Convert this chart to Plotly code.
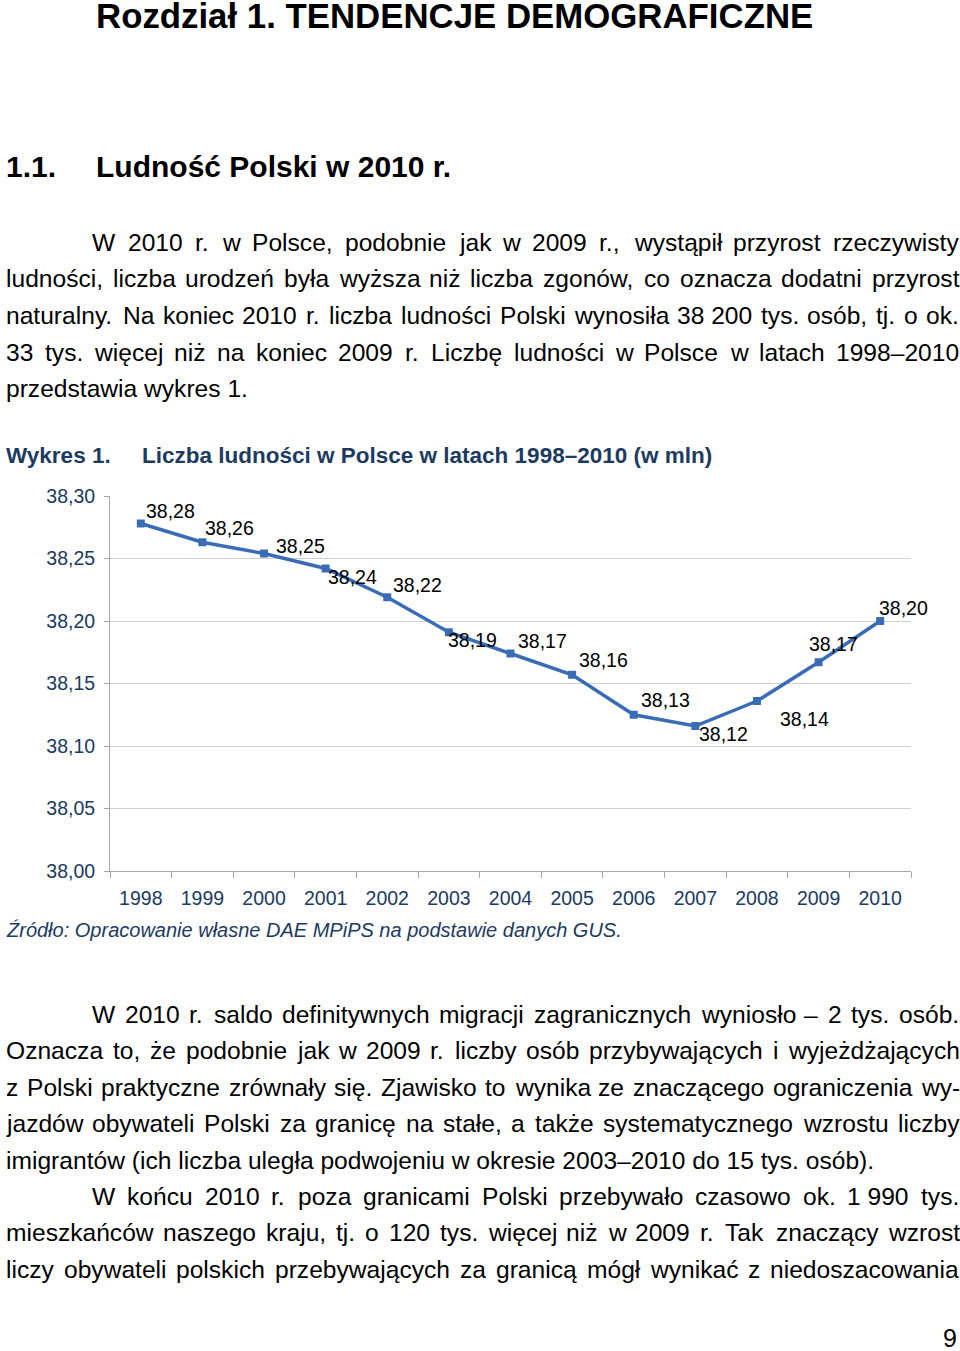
import plotly.graph_objects as go

# ---------------- data ----------------
years = ["1998", "1999", "2000", "2001", "2002", "2003", "2004",
         "2005", "2006", "2007", "2008", "2009", "2010"]
population = [38.278, 38.263, 38.254, 38.242, 38.219, 38.191, 38.174,
              38.157, 38.125, 38.116, 38.136, 38.167, 38.200]
value_labels = ["38,28", "38,26", "38,25", "38,24", "38,22", "38,19", "38,17",
                "38,16", "38,13", "38,12", "38,14", "38,17", "38,20"]
y_ticks = [38.00, 38.05, 38.10, 38.15, 38.20, 38.25, 38.30]
y_tick_labels = ["38,00", "38,05", "38,10", "38,15", "38,20", "38,25", "38,30"]

# label offsets (pixels) relative to each point
label_dx = [4, 2, 11, 1, 5, -2, 6, 6, 6, 3, 22, -11, -2]
label_dy = [13, 14, 8, -8, 12, -8, 13, 15, 15, -8, -18, 18, 13]

# ---------------- page geometry ----------------
W, H = 960, 1351
PL, PR, PT, PB = 110, 911, 496, 871   # plot area in page pixels

def px(x):
    return (x - PL) / (PR - PL)

def py(y):
    return (PB - y) / (PB - PT)

FONT = "Liberation Sans, Arial, Helvetica, sans-serif"
NAVY = "#1d3a5f"
BLUE = "#3a6cb5"

# Arial advance widths (1/1000 em)
AW = {' ': 278, '\u00a0': 278, ',': 278, '.': 278, ':': 278, '(': 333, ')': 333, '-': 333, '–': 556,
      'a': 556, 'b': 556, 'c': 500, 'd': 556, 'e': 556, 'f': 278, 'g': 556, 'h': 556, 'i': 222,
      'j': 222, 'k': 500, 'l': 222, 'm': 833, 'n': 556, 'o': 556, 'p': 556, 'q': 556, 'r': 333,
      's': 500, 't': 278, 'u': 556, 'v': 500, 'w': 722, 'x': 500, 'y': 500, 'z': 500,
      'ą': 556, 'ć': 500, 'ę': 556, 'ł': 222, 'ń': 556, 'ó': 556, 'ś': 500, 'ź': 500, 'ż': 500,
      'A': 667, 'B': 667, 'C': 722, 'D': 722, 'E': 667, 'F': 611, 'G': 778, 'H': 722, 'I': 278,
      'J': 500, 'K': 667, 'L': 556, 'M': 833, 'N': 722, 'O': 778, 'P': 667, 'Q': 778, 'R': 722,
      'S': 667, 'T': 611, 'U': 722, 'V': 667, 'W': 944, 'X': 667, 'Y': 667, 'Z': 611, 'Ź': 611}
for d in "0123456789":
    AW[d] = 556

def text_width(s, size):
    return sum(AW.get(c, 556) for c in s) * size / 1000.0

BODY = 24.6

top_lines = [
    ("W 2010 r. w Polsce, podobnie jak w 2009 r., wystąpił przyrost rzeczywisty", 91, True, 242),
    ("ludności, liczba urodzeń była wyższa niż liczba zgonów, co oznacza dodatni przyrost", 5, True, 278),
    ("naturalny. Na koniec 2010 r. liczba ludności Polski wynosiła 38\u00a0200 tys. osób, tj. o ok.", 5, True, 315),
    ("33 tys. więcej niż na koniec 2009 r. Liczbę ludności w Polsce w latach 1998–2010", 5, True, 352),
    ("przedstawia wykres 1.", 5, False, 388),
]
bottom_lines = [
    ("W 2010 r. saldo definitywnych migracji zagranicznych wyniosło – 2 tys. osób.", 91, True, 1014),
    ("Oznacza to, że podobnie jak w 2009 r. liczby osób przybywających i wyjeżdżających", 5, True, 1050),
    ("z Polski praktyczne zrównały się. Zjawisko to wynika ze znaczącego ograniczenia wy-", 5, True, 1087),
    ("jazdów obywateli Polski za granicę na stałe, a także systematycznego wzrostu liczby", 5, True, 1123),
    ("imigrantów (ich liczba uległa podwojeniu w okresie 2003–2010 do 15 tys. osób).", 5, False, 1160),
    ("W końcu 2010 r. poza granicami Polski przebywało czasowo ok. 1\u00a0990 tys.", 91, True, 1196),
    ("mieszkańców naszego kraju, tj. o 120 tys. więcej niż w 2009 r. Tak znaczący wzrost", 5, True, 1232),
    ("liczy obywateli polskich przebywających za granicą mógł wynikać z niedoszacowania", 5, True, 1269),
]
RIGHT = 958

annotations = []

def add_text(text, x, y, size, color="#000000", bold=False, italic=False, anchor="left"):
    t = text
    if bold:
        t = "<b>" + t + "</b>"
    if italic:
        t = "<i>" + t + "</i>"
    annotations.append(dict(text=t, x=px(x), y=py(y), xref="paper", yref="paper",
                            xanchor=anchor, yanchor="middle", showarrow=False,
                            borderpad=0, font=dict(family=FONT, size=size, color=color)))

def add_line(text, x0, justify, y):
    if not justify:
        add_text(text, x0, y, BODY)
        return
    words = text.split(" ")
    widths = [text_width(w, BODY) for w in words]
    gap = (RIGHT - x0 - sum(widths)) / (len(words) - 1)
    x = x0
    for w, wd in zip(words, widths):
        add_text(w, x, y, BODY)
        x += wd + gap

for line in top_lines + bottom_lines:
    add_line(*line)

# headings
add_text("Rozdział 1. TENDENCJE DEMOGRAFICZNE", 95, 15, 34.8, bold=True)
add_text("1.1.", 5, 166, 30, bold=True)
add_text("Ludność Polski w 2010 r.", 95, 166, 30, bold=True)
# chart title
add_text("Wykres 1.", 5, 455, 22.5, color=NAVY, bold=True)
add_text("Liczba ludności w Polsce w latach 1998–2010 (w mln)", 141, 455, 22.5, color=NAVY, bold=True)
# source
add_text("Źródło: Opracowanie własne DAE MPiPS na podstawie danych GUS.", 5, 930, 20, color=NAVY, italic=True)
# page number
add_text("9", 958, 1338, 25, anchor="right")

# data labels (x given as category index)
for i, (v, lab, dx, dy) in enumerate(zip(population, value_labels, label_dx, label_dy)):
    annotations.append(dict(text=lab, x=i, y=v, xref="x", yref="y", xanchor="left",
                            yanchor="middle", showarrow=False, xshift=dx, yshift=dy,
                            borderpad=0, font=dict(family=FONT, size=19.5, color="#000000")))

fig = go.Figure()
fig.add_trace(go.Scatter(x=years, y=population, mode="lines+markers",
                         line=dict(color=BLUE, width=3.5),
                         marker=dict(symbol="square", size=8, color=BLUE),
                         hoverinfo="skip", showlegend=False, cliponaxis=False))

fig.update_layout(
    width=W, height=H,
    margin=dict(l=PL, r=W - PR, t=PT, b=H - PB, pad=0),
    paper_bgcolor="white", plot_bgcolor="white",
    separators=", ",
    annotations=annotations,
    showlegend=False,
    font=dict(family=FONT),
)
fig.update_xaxes(type="category", range=[-0.5, 12.5], tickson="boundaries",
                 ticks="outside", ticklen=6, tickcolor="#a6a6a6",
                 showline=True, linecolor="#a6a6a6", linewidth=1,
                 showgrid=False, zeroline=False, ticklabelstandoff=10,
                 tickfont=dict(family=FONT, size=19.5, color=NAVY))
fig.update_yaxes(range=[38.0, 38.30], tickvals=y_ticks, ticktext=y_tick_labels,
                 ticks="outside", ticklen=5, tickcolor="#a6a6a6",
                 showline=True, linecolor="#a6a6a6", linewidth=1,
                 showgrid=True, gridcolor="#d0d0d0", gridwidth=1.3, zeroline=False,
                 ticklabelstandoff=5,
                 tickfont=dict(family=FONT, size=19.5, color=NAVY))

fig.write_html("out.html", config={"displayModeBar": False},
               post_script="document.body.style.margin='0';")
